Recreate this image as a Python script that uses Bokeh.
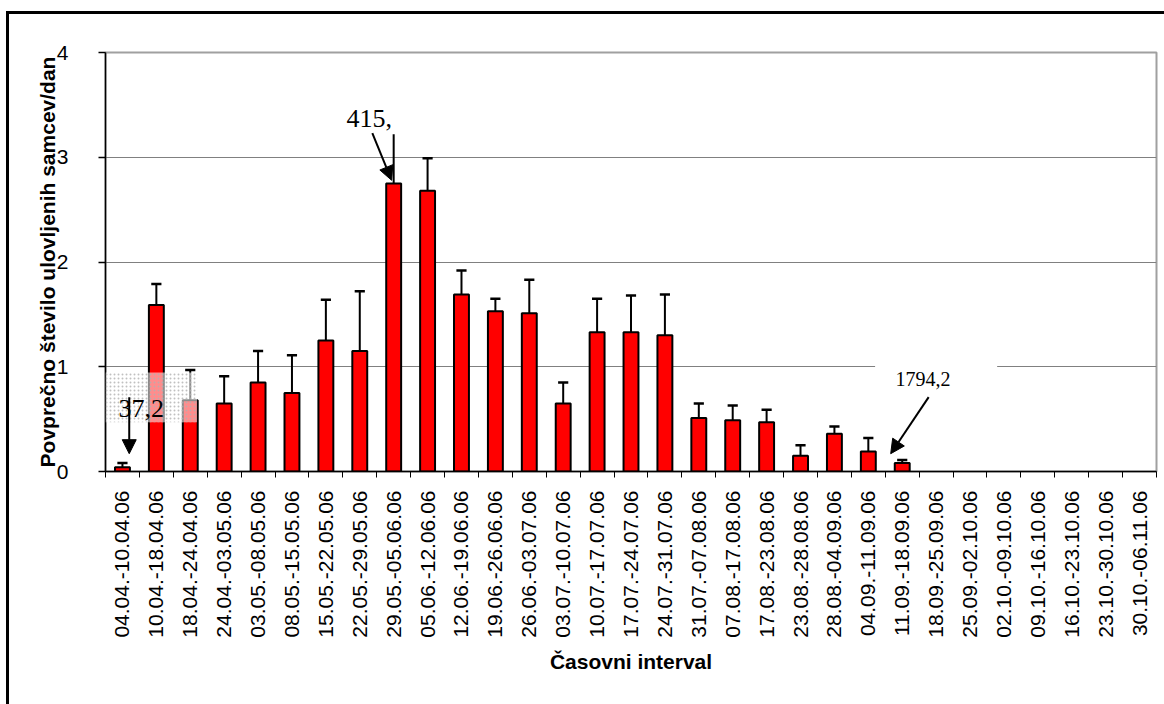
import math
from bokeh.plotting import figure
from bokeh.models import (Range1d, FixedTicker, BoxAnnotation, Label, Arrow, NormalHead,
                          InlineStyleSheet)
from bokeh.embed import file_html
from bokeh.resources import INLINE

categories = ["04.04.-10.04.06", "10.04.-18.04.06", "18.04.-24.04.06", "24.04.-03.05.06",
              "03.05.-08.05.06", "08.05.-15.05.06", "15.05.-22.05.06", "22.05.-29.05.06",
              "29.05.-05.06.06", "05.06.-12.06.06", "12.06.-19.06.06", "19.06.-26.06.06",
              "26.06.-03.07.06", "03.07.-10.07.06", "10.07.-17.07.06", "17.07.-24.07.06",
              "24.07.-31.07.06", "31.07.-07.08.06", "07.08.-17.08.06", "17.08.-23.08.06",
              "23.08.-28.08.06", "28.08.-04.09.06", "04.09.-11.09.06", "11.09.-18.09.06",
              "18.09.-25.09.06", "25.09.-02.10.06", "02.10.-09.10.06", "09.10.-16.10.06",
              "16.10.-23.10.06", "23.10.-30.10.06", "30.10.-06.11.06"]
means = [0.04, 1.59, 0.68, 0.65, 0.85, 0.75, 1.25, 1.15, 2.75, 2.68, 1.69, 1.53,
         1.51, 0.65, 1.33, 1.33, 1.30, 0.51, 0.49, 0.47, 0.15, 0.36, 0.19, 0.08,
         0, 0, 0, 0, 0, 0, 0]
upper = [0.08, 1.79, 0.97, 0.91, 1.15, 1.11, 1.64, 1.72, 3.22, 2.99, 1.92, 1.65,
         1.83, 0.85, 1.65, 1.68, 1.69, 0.65, 0.63, 0.59, 0.25, 0.43, 0.32, 0.11,
         None, None, None, None, None, None, None]
cap_shown = [True] * 8 + [False] + [True] * 22
y_ticks = [0, 1, 2, 3, 4]
notes = ["37,2", "415,", "1794,2"]

SANS = "Liberation Sans"
SERIF = "Liberation Serif"

xs = list(range(len(categories)))

p = figure(width=1164, height=704, output_backend="svg", toolbar_location=None,
           x_range=Range1d(-0.5, len(categories) - 0.5), y_range=Range1d(0, 4),
           min_border_left=105, min_border_right=8, min_border_top=52, min_border_bottom=233)

p.background_fill_color = "white"
p.border_fill_color = "white"
p.outline_line_color = "#a0a0a0"
p.outline_line_width = 2

p.xgrid.visible = False
p.ygrid.grid_line_color = "#808080"
p.ygrid.grid_line_width = 1
p.ygrid.ticker = FixedTicker(ticks=y_ticks)

# x axis
xa = p.xaxis[0]
xa.ticker = FixedTicker(ticks=xs, minor_ticks=[i - 0.5 for i in range(len(categories) + 1)])
xa.major_label_overrides = {i: c for i, c in zip(xs, categories)}
xa.major_label_orientation = math.pi / 2
xa.major_tick_out = 0
xa.major_tick_in = 0
xa.minor_tick_out = 6
xa.minor_tick_in = 0
xa.minor_tick_line_color = "black"
xa.axis_line_color = "black"
xa.axis_line_width = 1.5
xa.major_label_text_font = SANS
xa.major_label_text_font_size = "21px"
xa.major_label_text_color = "black"
xa.major_label_standoff = 13
xa.axis_label = "Časovni interval"
xa.axis_label_text_font = SANS
xa.axis_label_text_font_size = "21px"
xa.axis_label_text_font_style = "bold"
xa.axis_label_text_color = "black"
xa.axis_label_standoff = 9

# y axis
ya = p.yaxis[0]
ya.ticker = FixedTicker(ticks=y_ticks)
ya.major_tick_out = 7
ya.major_tick_in = 0
ya.minor_tick_out = 0
ya.minor_tick_in = 0
ya.axis_line_color = "black"
ya.axis_line_width = 1.5
ya.major_tick_line_color = "black"
ya.major_tick_line_width = 1.5
ya.major_label_text_font = SANS
ya.major_label_text_font_size = "21px"
ya.major_label_text_color = "black"
ya.major_label_standoff = 30
ya.axis_label = "Povprečno število ulovljenih samcev/dan"
ya.axis_label_text_font = SANS
ya.axis_label_text_font_size = "21px"
ya.axis_label_text_font_style = "bold"
ya.axis_label_text_color = "black"
ya.axis_label_standoff = -5

# error bars
ex = [x for x, u in zip(xs, upper) if u is not None]
ey0 = [m for m, u in zip(means, upper) if u is not None]
ey1 = [u for u in upper if u is not None]
p.segment(x0=ex, y0=ey0, x1=ex, y1=ey1, line_color="black", line_width=2)
cx = [x for x, u, c in zip(xs, upper, cap_shown) if u is not None and c]
cy = [u for u, c in zip(upper, cap_shown) if u is not None and c]
p.segment(x0=[x - 0.15 for x in cx], y0=cy, x1=[x + 0.15 for x in cx], y1=cy,
          line_color="black", line_width=2.5)

# bars (zero-height bars leave no visible mark)
bx = [x for x, m in zip(xs, means) if m > 0]
bt = [m for m in means if m > 0]
p.vbar(x=bx, top=bt, width=0.44, fill_color="#ff0000", line_color="black", line_width=2)

# note boxes
p.add_layout(BoxAnnotation(left=-0.5, right=2.2, bottom=0.47, top=0.945,
                           fill_color="white", fill_alpha=0.55, line_color=None,
                           hatch_pattern="dot", hatch_color="#b0b0b0", hatch_scale=4,
                           hatch_alpha=0.8))
p.add_layout(BoxAnnotation(left=22.2, right=25.8, bottom=0.78, top=1.15,
                           fill_color="white", fill_alpha=1.0, line_color=None))

# note texts
p.add_layout(Label(x=-0.12, y=0.60, text=notes[0], text_font=SERIF, text_font_size="26px",
                   text_color="black", text_baseline="alphabetic"))
p.add_layout(Label(x=6.61, y=3.37, text=notes[1], text_font=SERIF, text_font_size="26px",
                   text_color="black", text_baseline="alphabetic"))
p.add_layout(Label(x=22.8, y=0.88, text=notes[2], text_font=SERIF, text_font_size="20px",
                   text_color="black", text_baseline="alphabetic"))

# arrows
def arr(x0, y0, x1, y1):
    p.add_layout(Arrow(x_start=x0, y_start=y0, x_end=x1, y_end=y1, line_color="black",
                       line_width=2,
                       end=NormalHead(size=14, fill_color="black", line_color="black")))

arr(0.2, 0.71, 0.2, 0.17)
arr(7.37, 3.23, 7.94, 2.78)
arr(23.78, 0.71, 22.66, 0.17)

# outer frame border of the chart object (right/bottom edges lie outside the picture)
p.stylesheets = [InlineStyleSheet(css=(
    ":host { position: relative; }"
    ":host::after { content: ''; position: absolute; left: 6px; top: 11px; right: 0; bottom: 0;"
    " border-left: 3px solid black; border-top: 3px solid black; pointer-events: none; }"))]

open("out.html", "w").write(file_html(p, INLINE))
